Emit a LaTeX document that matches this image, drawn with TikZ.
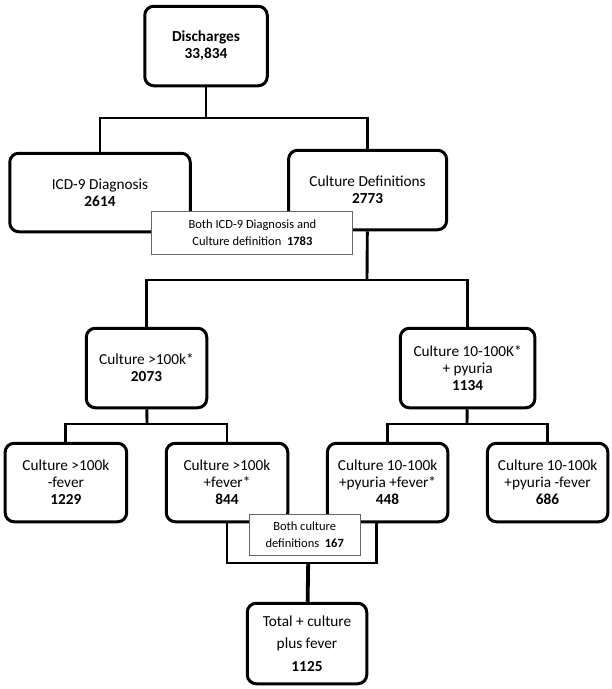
\documentclass[tikz,border=0pt]{standalone}
\usepackage{fontspec}
\setmainfont{Carlito}

\begin{document}
\begin{tikzpicture}[x=1pt, y=-1pt,
  box/.style={draw, line width=3pt, rounded corners=9pt, fill=white, align=center, inner sep=0pt, font=\fontsize{15.3}{17}\selectfont},
  overlap/.style={draw=black!60, line width=0.9pt, fill=white, align=center, inner sep=0pt, font=\fontsize{12.5}{17}\selectfont},
  link/.style={line width=2.9pt}]
\useasboundingbox (0,0) rectangle (612,689);
% boxes
\node[box, minimum width=122.5pt, minimum height=79.5pt] (dis) at (206,46) {\textbf{Discharges}\\\textbf{33,834}};
\node[box, minimum width=180.5pt, minimum height=78.5pt] (icd) at (100,192.5) {ICD-9 Diagnosis\\\textbf{2614}};
\node[box, minimum width=158pt, minimum height=79.5pt] (cul) at (367.6,190) {Culture Definitions\\\textbf{2773}};
\node[box, minimum width=120.5pt, minimum height=79.5pt] (big) at (146.5,368) {Culture >100k*\\\textbf{2073}};
\node[box, minimum width=134.5pt, minimum height=79.5pt] (mid) at (467.6,368) {Culture 10-100K*\\+ pyuria\\\textbf{1134}};
\node[box, minimum width=121.5pt, minimum height=78.5pt] (bignf) at (65.9,482.5) {Culture >100k\\-fever\\\textbf{1229}};
\node[box, minimum width=121.5pt, minimum height=78.5pt] (bigf) at (227,482.5) {Culture >100k\\+fever*\\\textbf{844}};
\node[box, minimum width=120.5pt, minimum height=78.5pt] (midf) at (387.6,482.5) {Culture 10-100k\\+pyuria +fever*\\\textbf{448}};
\node[box, minimum width=120.5pt, minimum height=78.5pt] (midnf) at (547.6,482.5) {Culture 10-100k\\+pyuria -fever\\\textbf{686}};
\node[box, minimum width=119.5pt, minimum height=80.5pt, font=\fontsize{15.3}{22.5}\selectfont] (tot) at (307,643.5) {Total + culture\\plus fever\\\textbf{1125}};
% joints
\coordinate (j1) at (206,118);
\coordinate (j2) at (367,280);
\coordinate (j3) at (147,424);
\coordinate (j4) at (467,424);
\coordinate (j5) at (308.2,563);
% connectors
\draw[link] (dis) -- (j1);
\draw[link] (icd.north) |- (j1) -| (cul.north);
\draw[link] (cul) -- (j2);
\draw[link] (big.north) |- (j2) -| (mid.north);
\draw[link] (big) -- (j3);
\draw[link] (bignf.north) |- (j3) -| (bigf.north);
\draw[link] (mid) -- (j4);
\draw[link] (midf.north) |- (j4) -| (midnf.north);
\draw[link] (bigf.south) |- (j5) -| ([xshift=-11pt]midf.south);
\draw[link, line width=3.8pt] (j5) -- (tot);
% overlaps
\node[overlap, minimum width=201pt, minimum height=43pt] (both) at (252.4,232.5) {Both ICD-9 Diagnosis and\\Culture definition\ \ \textbf{1783}};
\node[overlap, minimum width=110.6pt, minimum height=41pt] (bothcul) at (304.7,534.5) {Both culture\\definitions\ \ \textbf{167}};
\end{tikzpicture}
\end{document}
